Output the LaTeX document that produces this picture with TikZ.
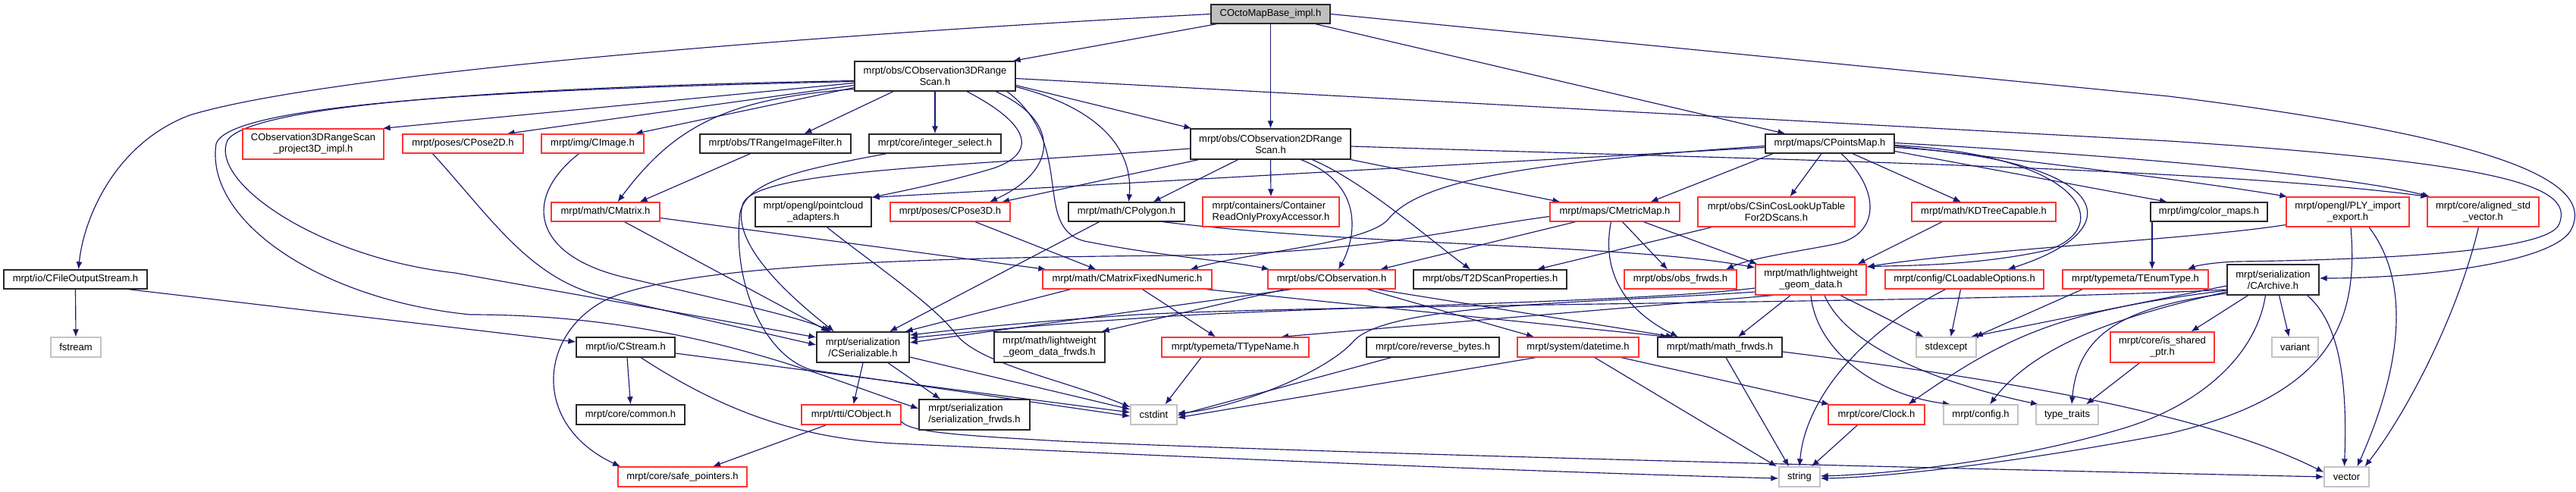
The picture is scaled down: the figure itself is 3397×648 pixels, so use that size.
\documentclass[tikz,border=0pt]{standalone}
\usepackage{fontspec}
\setmainfont{Liberation Sans}
\usetikzlibrary{arrows.meta}
\pgfdeclarelayer{bgfill}
\pgfdeclarelayer{edges}
\pgfsetlayers{bgfill,edges,main}
\definecolor{edgec}{RGB}{25,25,112}
\definecolor{redb}{RGB}{255,50,50}
\definecolor{grayb}{RGB}{195,195,195}
\definecolor{blkb}{RGB}{40,40,40}
\definecolor{rootf}{RGB}{191,191,191}
\newcommand{\nodefont}{\fontsize{13pt}{15pt}\selectfont}
\tikzset{
  box/.style={draw, line width=1.3pt, inner sep=0pt, font=\nodefont, align=center, text=black, fill=white},
  bbox/.style={box, draw=blkb},
  rbox/.style={box, draw=redb},
  gbox/.style={box, draw=grayb},
  e/.style={draw=edgec, line width=1.15pt, -{Latex[length=10pt,width=8pt]}},
}
\begin{document}
\begin{tikzpicture}[x=1pt,y=-1pt]
\begin{pgfonlayer}{bgfill}
\fill[white] (0,0) rectangle (3397,648);
\end{pgfonlayer}
\useasboundingbox (0,0) rectangle (3397,648);

% nodes
\node[bbox, fill=rootf, minimum width=157pt, minimum height=25pt] (root) at (1675.5,18.5) {COctoMapBase\_impl.h};
\node[bbox, minimum width=212pt, minimum height=39pt] (c3d) at (1233,100.5) {mrpt/obs/CObservation3DRange\\Scan.h};
\node[rbox, minimum width=186pt, minimum height=40pt] (proj3d) at (413,190) {CObservation3DRangeScan\\\_project3D\_impl.h};
\node[rbox, minimum width=159pt, minimum height=25pt] (cpose2d) at (610.5,189.5) {mrpt/poses/CPose2D.h};
\node[rbox, minimum width=135pt, minimum height=25pt] (cimage) at (781.5,189.5) {mrpt/img/CImage.h};
\node[bbox, minimum width=199pt, minimum height=25pt] (trif) at (1022.5,189.5) {mrpt/obs/TRangeImageFilter.h};
\node[bbox, minimum width=174pt, minimum height=25pt] (intsel) at (1233,189.5) {mrpt/core/integer\_select.h};
\node[bbox, minimum width=211pt, minimum height=40pt] (c2d) at (1675.5,190) {mrpt/obs/CObservation2DRange\\Scan.h};
\node[bbox, minimum width=170pt, minimum height=25pt] (cpm) at (2413,189.5) {mrpt/maps/CPointsMap.h};
\node[rbox, minimum width=143pt, minimum height=25pt] (cmatrix) at (798.5,279.5) {mrpt/math/CMatrix.h};
\node[bbox, minimum width=153pt, minimum height=39pt] (pcl) at (1072.5,279.5) {mrpt/opengl/pointcloud\\\_adapters.h};
\node[rbox, minimum width=158pt, minimum height=25pt] (cpose3d) at (1253,279.5) {mrpt/poses/CPose3D.h};
\node[bbox, minimum width=153pt, minimum height=25pt] (cpolygon) at (1485.5,279.5) {mrpt/math/CPolygon.h};
\node[rbox, minimum width=180pt, minimum height=39pt, align=left] (cro) at (1676,279.5) {mrpt/containers/Container\\ReadOnlyProxyAccessor.h};
\node[rbox, minimum width=171pt, minimum height=25pt] (cmm) at (2129.5,279.5) {mrpt/maps/CMetricMap.h};
\node[rbox, minimum width=207pt, minimum height=39pt] (csincos) at (2342.5,279.5) {mrpt/obs/CSinCosLookUpTable\\For2DScans.h};
\node[rbox, minimum width=190pt, minimum height=25pt] (kdtree) at (2616,279.5) {mrpt/math/KDTreeCapable.h};
\node[bbox, minimum width=154pt, minimum height=25pt] (colormaps) at (2913,279.5) {mrpt/img/color\_maps.h};
\node[rbox, minimum width=162pt, minimum height=39pt] (ply) at (3096,279.5) {mrpt/opengl/PLY\_import\\\_export.h};
\node[rbox, minimum width=147pt, minimum height=39pt] (aligned) at (3274.5,279.5) {mrpt/core/aligned\_std\\\_vector.h};
\node[bbox, minimum width=189pt, minimum height=25pt] (cfos) at (99.5,368.5) {mrpt/io/CFileOutputStream.h};
\node[rbox, minimum width=223pt, minimum height=25pt] (cmfn) at (1486.5,368.5) {mrpt/math/CMatrixFixedNumeric.h};
\node[rbox, minimum width=168pt, minimum height=25pt] (cobs) at (1756,368.5) {mrpt/obs/CObservation.h};
\node[bbox, minimum width=202pt, minimum height=25pt] (t2d) at (1965,368.5) {mrpt/obs/T2DScanProperties.h};
\node[rbox, minimum width=148pt, minimum height=25pt] (obsfrwds) at (2216,368.5) {mrpt/obs/obs\_frwds.h};
\node[rbox, minimum width=146pt, minimum height=40pt] (lwgeom) at (2388,369) {mrpt/math/lightweight\\\_geom\_data.h};
\node[rbox, minimum width=209pt, minimum height=25pt] (cloadable) at (2590.5,368.5) {mrpt/config/CLoadableOptions.h};
\node[rbox, minimum width=192pt, minimum height=25pt] (tenum) at (2816,368.5) {mrpt/typemeta/TEnumType.h};
\node[bbox, minimum width=121pt, minimum height=40pt] (carch) at (2997.5,369) {mrpt/serialization\\/CArchive.h};
\node[gbox, minimum width=66pt, minimum height=26pt] (fstream) at (100,458) {fstream};
\node[bbox, minimum width=130pt, minimum height=26pt] (cstream) at (825,458) {mrpt/io/CStream.h};
\node[bbox, minimum width=122pt, minimum height=40pt] (cser) at (1138,458) {mrpt/serialization\\/CSerializable.h};
\node[bbox, minimum width=146pt, minimum height=40pt] (lwfrwds) at (1384,458) {mrpt/math/lightweight\\\_geom\_data\_frwds.h};
\node[rbox, minimum width=194pt, minimum height=26pt] (ttype) at (1629,458) {mrpt/typemeta/TTypeName.h};
\node[bbox, minimum width=175pt, minimum height=26pt] (revbytes) at (1889.5,458) {mrpt/core/reverse\_bytes.h};
\node[rbox, minimum width=160pt, minimum height=26pt] (datetime) at (2081,458) {mrpt/system/datetime.h};
\node[bbox, minimum width=164pt, minimum height=26pt] (mathfrwds) at (2268,458) {mrpt/math/math\_frwds.h};
\node[gbox, minimum width=79pt, minimum height=26pt] (stdexcept) at (2566.5,458) {stdexcept};
\node[rbox, minimum width=137pt, minimum height=40pt] (isshared) at (2851.5,458) {mrpt/core/is\_shared\\\_ptr.h};
\node[gbox, minimum width=61pt, minimum height=26pt] (variant) at (3026.5,458) {variant};
\node[bbox, minimum width=143pt, minimum height=26pt] (common) at (831.5,547) {mrpt/core/common.h};
\node[rbox, minimum width=131pt, minimum height=26pt] (cobject) at (1122.5,547) {mrpt/rtti/CObject.h};
\node[bbox, minimum width=146pt, minimum height=40pt, align=left] (serfrwds) at (1285,547) {mrpt/serialization\\/serialization\_frwds.h};
\node[gbox, minimum width=61pt, minimum height=26pt] (cstdint) at (1521.5,547) {cstdint};
\node[rbox, minimum width=127pt, minimum height=26pt] (clock) at (2474.5,547) {mrpt/core/Clock.h};
\node[gbox, minimum width=98pt, minimum height=26pt] (config) at (2612,547) {mrpt/config.h};
\node[gbox, minimum width=82pt, minimum height=26pt] (typetraits) at (2726,547) {type\_traits};
\node[rbox, minimum width=170pt, minimum height=26pt] (safeptr) at (900,629) {mrpt/core/safe\_pointers.h};
\node[gbox, minimum width=54pt, minimum height=26pt] (string) at (2373,629) {string};
\node[gbox, minimum width=59pt, minimum height=26pt] (vector) at (3094.5,629) {vector};

\begin{pgfonlayer}{edges}
% root
\draw[e] ([xshift=8]root.south west) -- ([xshift=-4]c3d.north east);
\draw[e] (root.south) -- (c2d.north);
\draw[e] ([xshift=-20]root.south east) -- ([xshift=27]cpm.north west);
\draw[e] (root.west) .. controls (1000,50) and (420,100) .. (250,152) .. controls (150,190) and (110,290) .. ([xshift=4]cfos.north);
\draw[e] (root.east) -- (2860,127) .. controls (3280,180) and (3420,235) .. (3392,300) .. controls (3375,345) and (3200,367) .. ([yshift=2]carch.east);
% CFileOutputStream, CStream
\draw[e] (cfos.south) -- (fstream.north);
\draw[e] ([xshift=70]cfos.south) -- ([yshift=7]cstream.west);
\draw[e] ([xshift=2]cstream.south) -- (common.north);
\draw[e] ([yshift=-8]cstream.east) -- ([yshift=3]cstdint.west);
\draw[e] ([xshift=20]cstream.south) .. controls (950,540) and (1050,578) .. (1180,585) .. controls (1500,600) and (2000,622) .. ([yshift=-2]string.west);
% c3d
\draw[e] ([yshift=-9]c3d.west) -- ([xshift=-2]proj3d.north east);
\draw[e] ([yshift=-12]c3d.west) -- ([xshift=58]cpose2d.north);
\draw[e] ([yshift=-15]c3d.west) -- ([xshift=56]cimage.north);
\draw[e] ([xshift=-55]c3d.south) -- ([xshift=38]trif.north);
\draw[e] (c3d.south) -- (intsel.north);
\draw[e] ([yshift=-17]c3d.west) .. controls (960,130) and (890,165) .. ([xshift=16]cmatrix.north);
\draw[e] ([xshift=42]c3d.south) .. controls (1370,170) and (1360,205) .. (1310,222) .. controls (1250,240) and (1190,252) .. ([yshift=-1]pcl.north east);
\draw[e] ([xshift=80]c3d.south) .. controls (1400,160) and (1395,225) .. ([xshift=52]cpose3d.north);
\draw[e] ([yshift=-14]c3d.east) .. controls (1440,140) and (1495,190) .. ([xshift=3]cpolygon.north);
\draw[e] ([yshift=-12]c3d.east) -- ([xshift=2]c2d.north west);
\draw[e] ([xshift=95]c3d.south) .. controls (1420,190) and (1360,300) .. (1430,318) .. controls (1530,338) and (1620,344) .. ([xshift=-82]cobs.north);
\draw[e] ([yshift=-3]c3d.east) -- (2860,186) .. controls (3300,215) and (3395,245) .. (3375,295) .. controls (3362,335) and (3100,343) .. (2950,345) .. controls (2920,346) and (2898,350) .. ([xshift=-28]tenum.north east);
\draw[e] ([yshift=-6]c3d.west) .. controls (650,115) and (330,140) .. (300,185) .. controls (275,240) and (420,340) .. (600,360) -- ([yshift=13]cser.west);
\draw[e] ([yshift=-7]c3d.west) .. controls (650,118) and (300,138) .. (285,190) .. controls (270,290) and (420,395) .. (620,415) .. controls (900,415) and (1080,495) .. ([yshift=8]serfrwds.west);
% poses, image, matrix
\draw[e] ([xshift=-40]cpose2d.south) .. controls (650,290) and (700,370) .. (800,392) -- ([yshift=3]cser.west);
\draw[e] ([xshift=-18]cimage.south) .. controls (690,260) and (700,335) .. (820,365) .. controls (950,395) and (1060,420) .. ([xshift=-42]cser.north);
\draw[e] ([xshift=-33]trif.south) -- ([xshift=45]cmatrix.north);
\draw[e] ([xshift=25]cmatrix.south) -- ([xshift=-45]cser.north);
\draw[e] ([yshift=-8]cmatrix.east) -- ([xshift=5]cmfn.north west);
\draw[e] ([xshift=33]cpose3d.south) -- ([xshift=-41]cmfn.north);
\draw[e] ([xshift=-36]cpolygon.south) -- ([xshift=35]cser.north);
\draw[e] ([xshift=48]cpolygon.south) .. controls (1800,325) and (2150,322) .. ([yshift=16]lwgeom.west);
\draw[e] ([xshift=-64]intsel.south) .. controls (1050,225) and (975,240) .. (975,290) .. controls (968,380) and (1010,470) .. (1070,488) -- ([yshift=-2]cstdint.west);
\draw[e] ([xshift=18]pcl.south) .. controls (1140,340) and (1230,400) .. (1260,440) .. controls (1290,480) and (1400,500) .. ([yshift=10]cstdint.west);
% c2d
\draw[e] ([xshift=-95]c2d.south) -- ([xshift=68]cpose3d.north);
\draw[e] ([xshift=-43]c2d.south) -- ([xshift=35]cpolygon.north);
\draw[e] (c2d.south) -- (cro.north);
\draw[e] ([xshift=40]c2d.south) .. controls (1805,245) and (1785,320) .. ([xshift=9]cobs.north);
\draw[e] ([xshift=55]c2d.south) .. controls (1800,240) and (1890,320) .. ([xshift=-26]t2d.north);
\draw[e] (c2d.south east) -- ([xshift=-72]cmm.north);
\draw[e] ([yshift=-3]c2d.east) .. controls (2300,210) and (2900,220) .. ([xshift=2]aligned.north west);
\draw[e] ([yshift=-6]c2d.west) .. controls (1250,220) and (1000,225) .. (980,268) .. controls (962,320) and (1040,390) .. ([xshift=-38]cser.north);
% CPointsMap
\draw[e] ([xshift=-75]cpm.south) -- ([xshift=47]cmm.north);
\draw[e] ([xshift=-11]cpm.south) -- ([xshift=18]csincos.north);
\draw[e] ([xshift=30]cpm.south) -- ([xshift=-30]kdtree.north);
\draw[e] ([yshift=-10]cpm.east) -- ([xshift=-55]colormaps.north);
\draw[e] ([yshift=-3]cpm.east) .. controls (2700,215) and (2900,240) .. ([xshift=2]ply.north west);
\draw[e] ([yshift=1]cpm.east) .. controls (2800,205) and (3100,232) .. ([xshift=4]aligned.north west);
\draw[e] ([yshift=-2]cpm.east) .. controls (2750,205) and (2790,300) .. (2700,330) .. controls (2600,352) and (2500,350) .. ([yshift=17]lwgeom.east);
\draw[e] ([yshift=-5]cpm.east) .. controls (2780,210) and (2820,300) .. ([xshift=57]cloadable.north);
\draw[e] ([xshift=15]cpm.south) .. controls (2480,250) and (2480,310) .. (2420,322) .. controls (2370,332) and (2310,340) .. ([xshift=60]obsfrwds.north);
\draw[e] ([yshift=-5]cpm.west) -- ([yshift=-1]pcl.north east);
\draw[e] ([yshift=-3]cpm.west) .. controls (2000,215) and (1870,240) .. (1830,290) .. controls (1800,322) and (1650,332) .. ([xshift=83]cmfn.north);
% CMetricMap, CSinCos, KDTree, color_maps, PLY, aligned
\draw[e] ([xshift=-52]cmm.south) -- ([xshift=64]cobs.north);
\draw[e] ([xshift=10]cmm.south) -- ([xshift=-17]obsfrwds.north);
\draw[e] ([xshift=-5]cmm.south) .. controls (2115,340) and (2125,400) .. ([xshift=-55]mathfrwds.north);
\draw[e] ([xshift=38]cmm.south) -- ([xshift=3]lwgeom.north west);
\draw[e] ([yshift=-6]cmm.west) .. controls (1900,305) and (1800,334) .. (1550,337) .. controls (1200,340) and (900,350) .. (800,395) .. controls (710,440) and (700,560) .. ([xshift=-82]safeptr.north);
\draw[e] ([xshift=-85]csincos.south) -- ([xshift=62]t2d.north);
\draw[e] ([xshift=-55]kdtree.south) -- ([xshift=-12]lwgeom.north east);
\draw[e] ([xshift=-75]colormaps.south) -- ([xshift=22]tenum.north);
\draw[e] ([yshift=-17]ply.west) .. controls (2900,315) and (2600,330) .. ([yshift=17]lwgeom.east);
\draw[e] ([xshift=4]ply.south) .. controls (3110,420) and (3080,520) .. (2860,572) .. controls (2650,612) and (2480,630) .. ([yshift=-2]string.east);
\draw[e] ([xshift=28]ply.south) .. controls (3185,380) and (3160,500) .. ([xshift=14]vector.north);
\draw[e] ([xshift=-6]aligned.south) .. controls (3240,420) and (3170,550) .. ([xshift=24]vector.north);
% CMatrixFixedNumeric, CObservation
\draw[e] ([xshift=-75]cmfn.south) -- ([xshift=-6]cser.north east);
\draw[e] ([xshift=20]cmfn.south) -- ([xshift=-26]ttype.north);
\draw[e] ([xshift=104]cmfn.south) -- ([xshift=-68]mathfrwds.north);
\draw[e] ([xshift=-53]cobs.south) -- ([yshift=6]cser.east);
\draw[e] ([xshift=-62]cobs.south) -- ([xshift=-5]lwfrwds.north east);
\draw[e] ([xshift=47]cobs.south) -- ([xshift=-58]datetime.north);
\draw[e] ([xshift=60]cobs.south) -- ([xshift=-61]mathfrwds.north);
% lightweight_geom_data
\draw[e] ([xshift=-27]lwgeom.south) -- ([xshift=24]mathfrwds.north);
\draw[e] ([xshift=39]lwgeom.south) -- ([xshift=-30]stdexcept.north);
\draw[e] (lwgeom.south) .. controls (2395,460) and (2470,520) .. ([xshift=-40]config.north);
\draw[e] ([xshift=18]lwgeom.south) .. controls (2440,470) and (2600,515) .. ([xshift=-38]typetraits.north);
\draw[e] ([xshift=-50]lwgeom.south) -- ([xshift=60]ttype.north);
\draw[e] ([yshift=-11]lwgeom.west) .. controls (2150,400) and (1700,405) .. (1500,420) .. controls (1350,430) and (1260,440) .. ([yshift=12]cser.east);
\draw[e] ([yshift=-16]lwgeom.west) .. controls (2100,400) and (1830,400) .. (1785,450) .. controls (1745,495) and (1620,540) .. ([yshift=2]cstdint.east);
% CLoadableOptions, TEnumType
\draw[e] ([xshift=-5]cloadable.south) -- ([xshift=6]stdexcept.north);
\draw[e] ([xshift=-25]cloadable.south) .. controls (2450,440) and (2380,530) .. (string.north);
\draw[e] ([xshift=-70]tenum.south) -- ([xshift=-2]stdexcept.north east);
% CArchive
\draw[e] ([yshift=-8]carch.west) -- ([xshift=-8]stdexcept.north east);
\draw[e] ([yshift=-13]carch.west) .. controls (2600,400) and (1800,400) .. (1500,415) .. controls (1350,425) and (1260,435) .. ([yshift=16]cser.east);
\draw[e] ([yshift=-14]carch.west) .. controls (2720,410) and (2650,440) .. ([xshift=42]clock.north);
\draw[e] ([yshift=-16]carch.west) .. controls (2780,420) and (2680,460) .. ([xshift=12]config.north);
\draw[e] ([yshift=-18]carch.west) .. controls (2800,405) and (2740,440) .. ([xshift=6]typetraits.north);
\draw[e] ([xshift=-33]carch.south) -- ([xshift=38]isshared.north);
\draw[e] ([xshift=8]carch.south) -- ([xshift=-8]variant.north);
\draw[e] ([xshift=45]carch.south) .. controls (3090,430) and (3095,520) .. ([xshift=-3]vector.north);
\draw[e] ([xshift=-10]carch.south) .. controls (2975,470) and (2900,535) .. (2800,565) .. controls (2650,610) and (2480,626) .. ([yshift=1]string.east);
\draw[e] ([xshift=-30]isshared.south) -- ([xshift=25]typetraits.north);
% lower rows
\draw[e] (cser.south) -- ([xshift=3]cobject.north);
\draw[e] ([xshift=33]cser.south) -- ([xshift=-45]serfrwds.north);
\draw[e] ([yshift=-13]cser.east) -- ([yshift=7]cstdint.west);
\draw[e] ([xshift=-33]cobject.south) -- ([xshift=40]safeptr.north);
\draw[e] ([yshift=-9]cobject.east) .. controls (1200,570) and (1260,574) .. (1400,582) .. controls (1800,600) and (2700,621) .. (vector.west);
\draw[e] ([xshift=-45]ttype.south) -- ([xshift=15]cstdint.north);
\draw[e] ([xshift=-55]revbytes.south) -- ([yshift=-1]cstdint.east);
\draw[e] ([xshift=-56]datetime.south) -- ([yshift=-4]cstdint.east);
\draw[e] ([xshift=57]datetime.south) -- ([xshift=-62]clock.north);
\draw[e] ([xshift=22]datetime.south) -- ([xshift=-30]string.north);
\draw[e] ([xshift=8]mathfrwds.south) -- ([xshift=-14]string.north);
\draw[e] ([yshift=-6]mathfrwds.east) .. controls (2600,495) and (2900,540) .. ([yshift=6]vector.west);
\draw[e] ([xshift=-25]clock.south) -- ([xshift=16]string.north);
\end{pgfonlayer}
\end{tikzpicture}
\end{document}
